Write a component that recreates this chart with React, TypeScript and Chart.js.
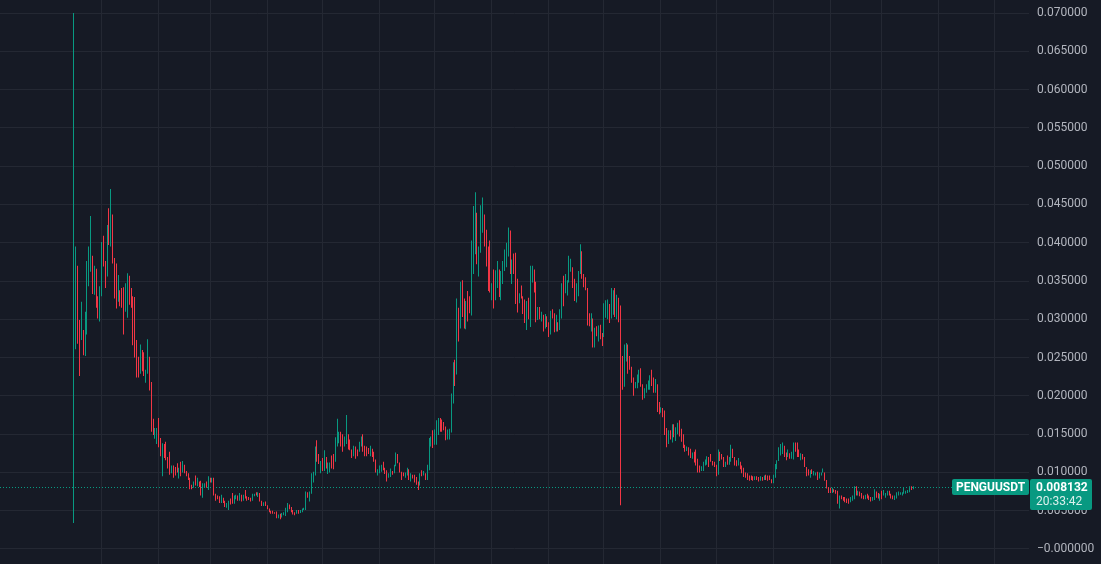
import React, { useEffect, useRef } from "react";
import { Chart, registerables } from "chart.js";

Chart.register(...registerables);

const symbol = "PENGUUSDT";
const startDate = "2024-12-17";
const lastPrice = 0.008132;
const countdown = "20:33:42";

const yTicks = [0, 0.005, 0.01, 0.015, 0.02, 0.025, 0.03, 0.035, 0.04, 0.045, 0.05, 0.055, 0.06, 0.065, 0.07];

const highs = [
  0.0700, 0.0395, 0.0370, 0.0299, 0.0323, 0.0286, 0.0310, 0.0376, 0.0395, 0.0435,
  0.0383, 0.0370, 0.0366, 0.0330, 0.0343, 0.0401, 0.0409, 0.0376, 0.0423, 0.0445,
  0.0470, 0.0437, 0.0380, 0.0373, 0.0358, 0.0338, 0.0341, 0.0342, 0.0347, 0.0360,
  0.0357, 0.0341, 0.0330, 0.0329, 0.0273, 0.0251, 0.0267, 0.0260, 0.0257, 0.0234,
  0.0274, 0.0251, 0.0218, 0.0170, 0.0158, 0.0158, 0.0171, 0.0145, 0.0138, 0.0137,
  0.0140, 0.0120, 0.0127, 0.0109, 0.0109, 0.0107, 0.0112, 0.0106, 0.0114, 0.0115,
  0.0110, 0.0102, 0.0099, 0.0093, 0.0084, 0.0088, 0.0096, 0.0093, 0.0088, 0.0089,
  0.0086, 0.0086, 0.0088, 0.0095, 0.0093, 0.0093, 0.0093, 0.0072, 0.0070, 0.0069,
  0.0071, 0.0067, 0.0063, 0.0060, 0.0063, 0.0066, 0.0073, 0.0070, 0.0071, 0.0070,
  0.0073, 0.0071, 0.0071, 0.0077, 0.0069, 0.0068, 0.0067, 0.0072, 0.0072, 0.0074,
  0.0074, 0.0073, 0.0063, 0.0061, 0.0062, 0.0057, 0.0053, 0.0050, 0.0050, 0.0048,
  0.0049, 0.0045, 0.0046, 0.0047, 0.0048, 0.0054, 0.0060, 0.0058, 0.0055, 0.0051,
  0.0048, 0.0051, 0.0051, 0.0051, 0.0053, 0.0054, 0.0075, 0.0074, 0.0075, 0.0099,
  0.0101, 0.0134, 0.0142, 0.0124, 0.0115, 0.0119, 0.0129, 0.0120, 0.0113, 0.0113,
  0.0122, 0.0124, 0.0146, 0.0170, 0.0153, 0.0153, 0.0150, 0.0147, 0.0175, 0.0150,
  0.0143, 0.0130, 0.0135, 0.0134, 0.0130, 0.0140, 0.0147, 0.0150, 0.0135, 0.0134,
  0.0132, 0.0135, 0.0131, 0.0127, 0.0117, 0.0104, 0.0109, 0.0110, 0.0114, 0.0106,
  0.0103, 0.0099, 0.0105, 0.0102, 0.0110, 0.0126, 0.0124, 0.0113, 0.0101, 0.0100,
  0.0100, 0.0106, 0.0104, 0.0099, 0.0097, 0.0097, 0.0094, 0.0088, 0.0099, 0.0103,
  0.0102, 0.0099, 0.0110, 0.0145, 0.0147, 0.0155, 0.0156, 0.0168, 0.0171, 0.0171,
  0.0169, 0.0166, 0.0160, 0.0156, 0.0157, 0.0203, 0.0244, 0.0247, 0.0327, 0.0315,
  0.0349, 0.0351, 0.0327, 0.0324, 0.0337, 0.0330, 0.0403, 0.0448, 0.0466, 0.0439,
  0.0395, 0.0449, 0.0459, 0.0437, 0.0417, 0.0395, 0.0403, 0.0347, 0.0365, 0.0364,
  0.0376, 0.0365, 0.0363, 0.0376, 0.0391, 0.0400, 0.0420, 0.0416, 0.0378, 0.0386,
  0.0387, 0.0353, 0.0334, 0.0344, 0.0330, 0.0326, 0.0324, 0.0328, 0.0370, 0.0370,
  0.0365, 0.0349, 0.0316, 0.0316, 0.0310, 0.0306, 0.0307, 0.0304, 0.0296, 0.0311,
  0.0313, 0.0308, 0.0306, 0.0296, 0.0313, 0.0347, 0.0357, 0.0359, 0.0351, 0.0383,
  0.0379, 0.0368, 0.0353, 0.0347, 0.0363, 0.0398, 0.0389, 0.0359, 0.0355, 0.0341,
  0.0308, 0.0308, 0.0301, 0.0289, 0.0291, 0.0292, 0.0293, 0.0282, 0.0321, 0.0325,
  0.0326, 0.0320, 0.0341, 0.0338, 0.0341, 0.0332, 0.0328, 0.0318, 0.0252, 0.0267,
  0.0269, 0.0267, 0.0252, 0.0238, 0.0224, 0.0218, 0.0228, 0.0234, 0.0236, 0.0215,
  0.0210, 0.0215, 0.0220, 0.0227, 0.0234, 0.0224, 0.0222, 0.0215, 0.0192, 0.0185,
  0.0184, 0.0181, 0.0158, 0.0155, 0.0155, 0.0163, 0.0163, 0.0159, 0.0165, 0.0168,
  0.0157, 0.0150, 0.0136, 0.0134, 0.0133, 0.0131, 0.0126, 0.0127, 0.0130, 0.0118,
  0.0109, 0.0108, 0.0114, 0.0117, 0.0121, 0.0120, 0.0124, 0.0115, 0.0114, 0.0110,
  0.0130, 0.0127, 0.0124, 0.0120, 0.0114, 0.0122, 0.0120, 0.0136, 0.0131, 0.0120,
  0.0116, 0.0119, 0.0114, 0.0109, 0.0106, 0.0100, 0.0099, 0.0096, 0.0096, 0.0095,
  0.0095, 0.0095, 0.0094, 0.0095, 0.0094, 0.0096, 0.0097, 0.0096, 0.0096, 0.0091,
  0.0097, 0.0111, 0.0116, 0.0133, 0.0137, 0.0139, 0.0135, 0.0126, 0.0130, 0.0125,
  0.0127, 0.0139, 0.0139, 0.0139, 0.0130, 0.0125, 0.0124, 0.0120, 0.0107, 0.0104,
  0.0103, 0.0104, 0.0102, 0.0100, 0.0101, 0.0100, 0.0100, 0.0105, 0.0100, 0.0090,
  0.0081, 0.0080, 0.0080, 0.0078, 0.0077, 0.0076, 0.0070, 0.0070, 0.0068, 0.0068,
  0.0066, 0.0066, 0.0068, 0.0070, 0.0082, 0.0082, 0.0076, 0.0075, 0.0073, 0.0070,
  0.0071, 0.0072, 0.0070, 0.0068, 0.0068, 0.0078, 0.0075, 0.0073, 0.0072, 0.0076,
  0.0077, 0.0073, 0.0076, 0.0076, 0.0072, 0.0070, 0.0070, 0.0074, 0.0075, 0.0074,
  0.0074, 0.0080, 0.0076, 0.0077, 0.0082, 0.0082, 0.0082,
];

const lows = [
  0.0034, 0.0261, 0.0268, 0.0226, 0.0273, 0.0253, 0.0252, 0.0280, 0.0343, 0.0362,
  0.0333, 0.0332, 0.0315, 0.0301, 0.0297, 0.0330, 0.0369, 0.0341, 0.0356, 0.0397,
  0.0395, 0.0373, 0.0327, 0.0314, 0.0323, 0.0317, 0.0315, 0.0280, 0.0310, 0.0302,
  0.0319, 0.0315, 0.0266, 0.0250, 0.0224, 0.0224, 0.0229, 0.0232, 0.0226, 0.0217,
  0.0229, 0.0207, 0.0153, 0.0149, 0.0144, 0.0137, 0.0133, 0.0121, 0.0095, 0.0119,
  0.0116, 0.0105, 0.0097, 0.0099, 0.0093, 0.0096, 0.0100, 0.0092, 0.0095, 0.0100,
  0.0099, 0.0095, 0.0090, 0.0078, 0.0078, 0.0080, 0.0083, 0.0082, 0.0081, 0.0070,
  0.0067, 0.0080, 0.0080, 0.0077, 0.0087, 0.0087, 0.0070, 0.0063, 0.0065, 0.0060,
  0.0060, 0.0060, 0.0055, 0.0054, 0.0051, 0.0058, 0.0059, 0.0059, 0.0065, 0.0063,
  0.0063, 0.0062, 0.0063, 0.0066, 0.0063, 0.0064, 0.0062, 0.0063, 0.0069, 0.0070,
  0.0068, 0.0062, 0.0056, 0.0056, 0.0056, 0.0052, 0.0048, 0.0046, 0.0046, 0.0046,
  0.0040, 0.0040, 0.0039, 0.0041, 0.0044, 0.0043, 0.0048, 0.0052, 0.0048, 0.0045,
  0.0044, 0.0046, 0.0046, 0.0047, 0.0048, 0.0051, 0.0051, 0.0067, 0.0062, 0.0072,
  0.0087, 0.0096, 0.0114, 0.0111, 0.0099, 0.0102, 0.0102, 0.0105, 0.0098, 0.0100,
  0.0105, 0.0104, 0.0114, 0.0134, 0.0138, 0.0134, 0.0127, 0.0134, 0.0137, 0.0130,
  0.0129, 0.0119, 0.0121, 0.0118, 0.0121, 0.0127, 0.0134, 0.0127, 0.0121, 0.0121,
  0.0124, 0.0121, 0.0120, 0.0114, 0.0100, 0.0096, 0.0099, 0.0101, 0.0103, 0.0098,
  0.0088, 0.0093, 0.0094, 0.0097, 0.0099, 0.0108, 0.0112, 0.0100, 0.0090, 0.0095,
  0.0093, 0.0096, 0.0090, 0.0088, 0.0092, 0.0087, 0.0084, 0.0077, 0.0083, 0.0095,
  0.0096, 0.0090, 0.0090, 0.0103, 0.0134, 0.0132, 0.0136, 0.0136, 0.0149, 0.0153,
  0.0153, 0.0155, 0.0142, 0.0143, 0.0143, 0.0152, 0.0190, 0.0213, 0.0228, 0.0271,
  0.0288, 0.0303, 0.0288, 0.0287, 0.0297, 0.0308, 0.0305, 0.0359, 0.0385, 0.0372,
  0.0356, 0.0387, 0.0413, 0.0395, 0.0369, 0.0337, 0.0335, 0.0325, 0.0314, 0.0325,
  0.0341, 0.0329, 0.0325, 0.0346, 0.0363, 0.0368, 0.0382, 0.0359, 0.0346, 0.0359,
  0.0320, 0.0309, 0.0321, 0.0327, 0.0307, 0.0295, 0.0286, 0.0300, 0.0290, 0.0348,
  0.0335, 0.0296, 0.0299, 0.0300, 0.0297, 0.0284, 0.0288, 0.0290, 0.0277, 0.0280,
  0.0301, 0.0283, 0.0284, 0.0284, 0.0286, 0.0301, 0.0317, 0.0334, 0.0331, 0.0348,
  0.0362, 0.0341, 0.0324, 0.0322, 0.0330, 0.0359, 0.0353, 0.0342, 0.0338, 0.0292,
  0.0291, 0.0284, 0.0263, 0.0263, 0.0278, 0.0271, 0.0274, 0.0265, 0.0277, 0.0302,
  0.0300, 0.0295, 0.0301, 0.0306, 0.0303, 0.0300, 0.0296, 0.0057, 0.0208, 0.0212,
  0.0245, 0.0229, 0.0234, 0.0217, 0.0200, 0.0210, 0.0210, 0.0217, 0.0212, 0.0195,
  0.0197, 0.0204, 0.0208, 0.0208, 0.0213, 0.0204, 0.0204, 0.0179, 0.0176, 0.0178,
  0.0172, 0.0149, 0.0133, 0.0137, 0.0143, 0.0139, 0.0146, 0.0141, 0.0150, 0.0147,
  0.0140, 0.0132, 0.0127, 0.0128, 0.0122, 0.0119, 0.0118, 0.0113, 0.0109, 0.0100,
  0.0100, 0.0102, 0.0102, 0.0109, 0.0110, 0.0107, 0.0114, 0.0109, 0.0107, 0.0095,
  0.0097, 0.0115, 0.0117, 0.0107, 0.0107, 0.0110, 0.0110, 0.0114, 0.0119, 0.0109,
  0.0108, 0.0109, 0.0104, 0.0099, 0.0094, 0.0093, 0.0090, 0.0089, 0.0090, 0.0089,
  0.0090, 0.0090, 0.0088, 0.0089, 0.0089, 0.0090, 0.0090, 0.0089, 0.0090, 0.0086,
  0.0086, 0.0093, 0.0104, 0.0115, 0.0122, 0.0124, 0.0120, 0.0116, 0.0120, 0.0118,
  0.0118, 0.0117, 0.0127, 0.0120, 0.0120, 0.0116, 0.0117, 0.0107, 0.0095, 0.0096,
  0.0093, 0.0098, 0.0096, 0.0096, 0.0090, 0.0092, 0.0096, 0.0100, 0.0089, 0.0079,
  0.0073, 0.0073, 0.0073, 0.0074, 0.0072, 0.0059, 0.0053, 0.0065, 0.0063, 0.0061,
  0.0060, 0.0059, 0.0061, 0.0063, 0.0065, 0.0070, 0.0070, 0.0069, 0.0066, 0.0065,
  0.0065, 0.0066, 0.0064, 0.0062, 0.0063, 0.0064, 0.0067, 0.0066, 0.0063, 0.0065,
  0.0070, 0.0067, 0.0070, 0.0070, 0.0066, 0.0065, 0.0064, 0.0066, 0.0070, 0.0071,
  0.0070, 0.0072, 0.0072, 0.0073, 0.0074, 0.0077, 0.0078,
];

// G = close above open (up day), R = close below open (down day)
const moves = (
  "GGRRGRGGGG" + "RGRRGGRRGR" + "GRRRGRRRGG" + "RRRRRRGRRG" + "GRRRGGRRGR" +
  "RRRGRRRGRG" + "RRRRRGRGRR" + "GGRGRGRRRR" + "GRRGGRRGGR" + "GRGRRRRGGR" +
  "GRRGRRRRRR" + "RGRGGGGRRR" + "RGRGGGGRGG" + "GGRRGRGRGG" + "RRGGGRRGGR" +
  "RRGRRGGRRR" + "RGRRRGGGRR" + "RGGRGGRRRR" + "GGRGRRRRGR" + "GRGGGRGGGR" +
  "RRRGGGGRGR" + "GRRGRRGGGR" + "GGGRRRRGRG" + "GRGGGGGRGR" + "RRGRRRGRGG" +
  "RRGRGRGRRG" + "RRGRGGRGGG" + "GRRGGGRRRR" + "RGRGRGRRGG" + "GRGGRGRRRG" +
  "GRRRRGGGRR" + "GGGGRRGRRG" + "RRRGRGRGGR" + "RRRGRRGRRR" + "RGGGGRRRRR" +
  "GRRRGRGGRR" + "RGRRRRRRRR" + "GRRGRGRRRR" + "GGGGGGRRGR" + "GGRRRGRRRR" +
  "GRGGRGGGRR" + "RRGRRRGRRR" + "RRGGGRGRRR" + "GRRRGGRRGR" + "GGGRRRGGGG" +
  "GGGGGRG"
).split("");

const green = "#089981";
const red = "#f23645";
const bg = "#161a25";
const gridColor = "#242833";
const textColor = "#b2b5be";

const xMin = -40.2;
const xMax = 519;
const yMin = -0.00196;
const yMax = 0.0717;

function dayLabels(count: number): string[] {
  const out: string[] = [];
  const base = new Date(startDate + "T00:00:00Z").getTime();
  for (let i = 0; i < count; i++) {
    out.push(new Date(base + i * 86400000).toISOString().slice(0, 10));
  }
  return out;
}

const dates = dayLabels(Math.ceil(xMax) + 1);
const monthStarts = dates.map((d, i) => (d.endsWith("-01") ? i : -1)).filter((i) => i >= 0);

function fmt(v: number): string {
  if (Math.abs(v) < 1e-9) return "\u22120.000000";
  return v.toFixed(6);
}

const bgPlugin = {
  id: "bg",
  beforeDraw(chart: any) {
    const { ctx, width, height } = chart;
    ctx.save();
    ctx.fillStyle = bg;
    ctx.fillRect(0, 0, width, height);
    ctx.restore();
  },
};

// snap each 1px candle onto the pixel grid so it renders crisp
const snapPlugin = {
  id: "snap",
  beforeDatasetsDraw(chart: any) {
    const meta = chart.getDatasetMeta(0);
    meta.data.forEach((el: any) => {
      el.x = Math.floor(el.x) + 0.5;
    });
  },
};

function roundRect(ctx: CanvasRenderingContext2D, x: number, y: number, w: number, h: number, r: number) {
  ctx.beginPath();
  ctx.moveTo(x + r, y);
  ctx.lineTo(x + w - r, y);
  ctx.quadraticCurveTo(x + w, y, x + w, y + r);
  ctx.lineTo(x + w, y + h - r);
  ctx.quadraticCurveTo(x + w, y + h, x + w - r, y + h);
  ctx.lineTo(x + r, y + h);
  ctx.quadraticCurveTo(x, y + h, x, y + h - r);
  ctx.lineTo(x, y + r);
  ctx.quadraticCurveTo(x, y, x + r, y);
  ctx.closePath();
}

const priceLinePlugin = {
  id: "priceLine",
  beforeDatasetsDraw(chart: any) {
    const { ctx, chartArea, scales } = chart;
    const py = Math.round(scales.y.getPixelForValue(lastPrice)) + 0.5;
    ctx.save();
    ctx.strokeStyle = green;
    ctx.lineWidth = 1;
    ctx.setLineDash([1, 2]);
    ctx.beginPath();
    ctx.moveTo(chartArea.left, py);
    ctx.lineTo(chartArea.right, py);
    ctx.stroke();
    ctx.restore();
  },
  afterDraw(chart: any) {
    const { ctx, chartArea, scales } = chart;
    const y = scales.y;
    const py = Math.round(y.getPixelForValue(lastPrice));
    ctx.save();
    ctx.font = "bold 12px Roboto, 'Noto Sans', sans-serif";
    const tw = ctx.measureText(symbol).width;
    const tagW = Math.round(tw + 8);
    const tagX = chartArea.right - tagW;
    const tagY = py - 8;
    ctx.fillStyle = green;
    roundRect(ctx, tagX, tagY, tagW, 16, 2);
    ctx.fill();
    ctx.fillStyle = "#ffffff";
    ctx.textAlign = "center";
    ctx.textBaseline = "middle";
    ctx.fillText(symbol, tagX + tagW / 2, tagY + 8.5);
    const bx = y.left + 1;
    const bw = 62;
    ctx.fillStyle = green;
    roundRect(ctx, bx, tagY, bw, 31, 2);
    ctx.fill();
    ctx.fillStyle = "#ffffff";
    ctx.textAlign = "left";
    ctx.fillText(lastPrice.toFixed(6), bx + 6, tagY + 8.5);
    ctx.font = "12px Roboto, 'Noto Sans', sans-serif";
    ctx.fillStyle = "rgba(255,255,255,0.85)";
    ctx.fillText(countdown, bx + 6, tagY + 23);
    ctx.restore();
  },
};

export default function App() {
  const ref = useRef<HTMLCanvasElement | null>(null);

  useEffect(() => {
    document.body.style.margin = "0";
    document.body.style.background = bg;
    const canvas = ref.current;
    if (!canvas) return;
    const data = highs.map((h, i) => ({ x: i, y: [lows[i], h] }));
    const colors = moves.map((m) => (m === "G" ? green : red));
    const chart = new Chart(canvas, {
      type: "bar",
      data: {
        datasets: [
          {
            label: symbol,
            data: data as any,
            backgroundColor: colors,
            borderWidth: 0,
            borderSkipped: false,
            barThickness: 1,
            inflateAmount: 0,
          } as any,
        ],
      },
      options: {
        animation: false,
        responsive: false,
        maintainAspectRatio: false,
        devicePixelRatio: 1,
        layout: { padding: 0 },
        plugins: {
          legend: { display: false },
          tooltip: { enabled: false },
        },
        scales: {
          x: {
            type: "linear",
            min: xMin,
            max: xMax,
            offset: false,
            grid: { color: gridColor, drawTicks: false, lineWidth: 1, offset: false },
            border: { display: false },
            ticks: { display: false },
            afterBuildTicks: (s: any) => {
              s.ticks = monthStarts.map((v) => ({ value: v }));
            },
            afterFit: (s: any) => {
              s.height = 0;
              s.paddingLeft = 0;
              s.paddingRight = 0;
            },
          },
          y: {
            type: "linear",
            position: "right",
            min: yMin,
            max: yMax,
            grid: { color: gridColor, drawTicks: false, lineWidth: 1 },
            border: { display: false },
            ticks: {
              color: textColor,
              padding: 8,
              font: { family: "Roboto, 'Noto Sans', sans-serif", size: 12 },
              callback: (v: any) => fmt(Number(v)),
            },
            afterBuildTicks: (s: any) => {
              s.ticks = yTicks.map((v) => ({ value: v }));
            },
            afterFit: (s: any) => {
              s.width = 72;
              s.paddingTop = 0;
              s.paddingBottom = 0;
            },
          },
        },
      } as any,
      plugins: [bgPlugin, priceLinePlugin, snapPlugin],
    });
    return () => chart.destroy();
  }, []);

  return (
    <div style={{ width: 1101, height: 564, background: bg }}>
      <canvas ref={ref} width={1101} height={564} style={{ display: "block" }} />
    </div>
  );
}
